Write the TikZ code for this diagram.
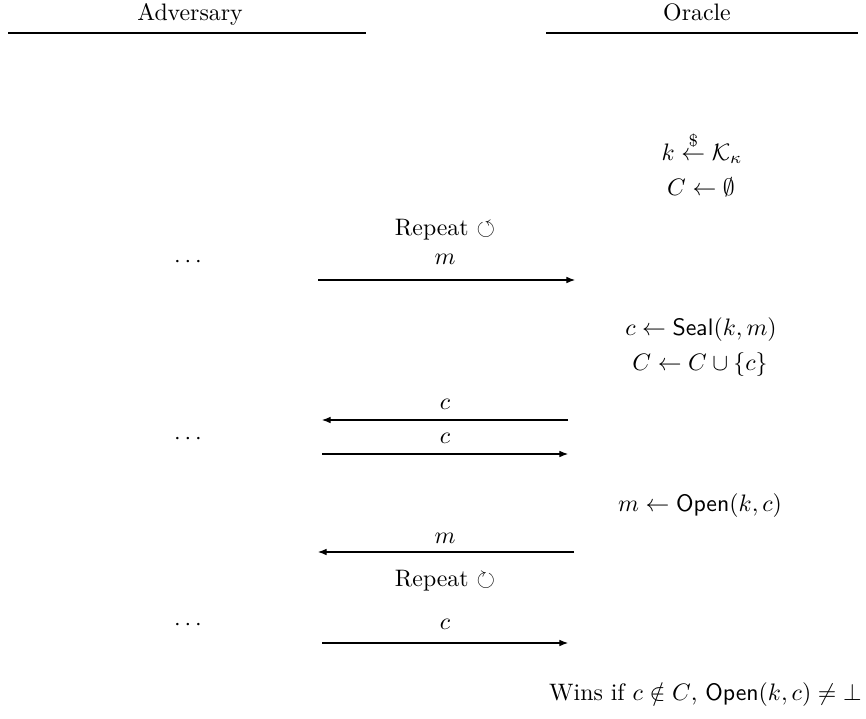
\documentclass[tikz,border=0pt]{standalone}
\usepackage{amsmath,amssymb}
\usetikzlibrary{arrows.meta}
\begin{document}
\begin{tikzpicture}[x=0.42pt,y=-0.42pt,
  txt/.style={inner sep=0pt,anchor=base},
  msg/.style={-{Latex[length=3.6pt,width=2.8pt]},line width=0.45pt},
  rule/.style={line width=0.45pt}]
\useasboundingbox (0,0) rectangle (866,719);
% headers
\node[txt] (adv) at (190,21) {Adversary};
\node[txt] (ora) at (697,21) {Oracle};
\coordinate (al) at (8,33); \coordinate (ar) at (366,33);
\coordinate (ol) at (546,33); \coordinate (or) at (858,33);
\draw[rule] (al) -- (ar);
\draw[rule] (ol) -- (or);
% oracle setup
\node[txt] (kgen) at (702,160) {$k \overset{\$}{\leftarrow} \mathcal{K}_\kappa$};
\node[txt] (cinit) at (701,195) {$C \leftarrow \emptyset$};
% repeat 1
\node[txt] (rep1) at (445,235) {Repeat $\circlearrowleft$};
\node[txt] (d1) at (190,267) {$\cdots$};
\node[txt] (m1) at (445,264) {$m$};
\coordinate (a1s) at (318,280); \coordinate (a1e) at (575,280);
\draw[msg] (a1s) -- (a1e);
\node[txt] (seal) at (701,335) {$c \leftarrow \mathsf{Seal}(k,m)$};
\node[txt] (cadd) at (700,370) {$C \leftarrow C \cup \{c\}$};
\node[txt] (c1) at (445,409) {$c$};
\coordinate (a2s) at (568,420); \coordinate (a2e) at (322,420);
\draw[msg] (a2s) -- (a2e);
\node[txt] (d2) at (190,444) {$\cdots$};
\node[txt] (c2) at (445,443) {$c$};
\coordinate (a3s) at (322,454); \coordinate (a3e) at (568,454);
\draw[msg] (a3s) -- (a3e);
\node[txt] (open) at (700,511) {$m \leftarrow \mathsf{Open}(k,c)$};
\node[txt] (m2) at (445,543) {$m$};
\coordinate (a4s) at (574,552); \coordinate (a4e) at (318,552);
\draw[msg] (a4s) -- (a4e);
\node[txt] (rep2) at (445,586) {Repeat $\circlearrowright$};
\node[txt] (d3) at (190,630) {$\cdots$};
\node[txt] (c3) at (445,629) {$c$};
\coordinate (a5s) at (322,643); \coordinate (a5e) at (568,643);
\draw[msg] (a5s) -- (a5e);
\node[txt,anchor=base east] (win) at (862,700) {Wins if $c \notin C$, $\mathsf{Open}(k,c) \neq \bot$};
\end{tikzpicture}
\end{document}
